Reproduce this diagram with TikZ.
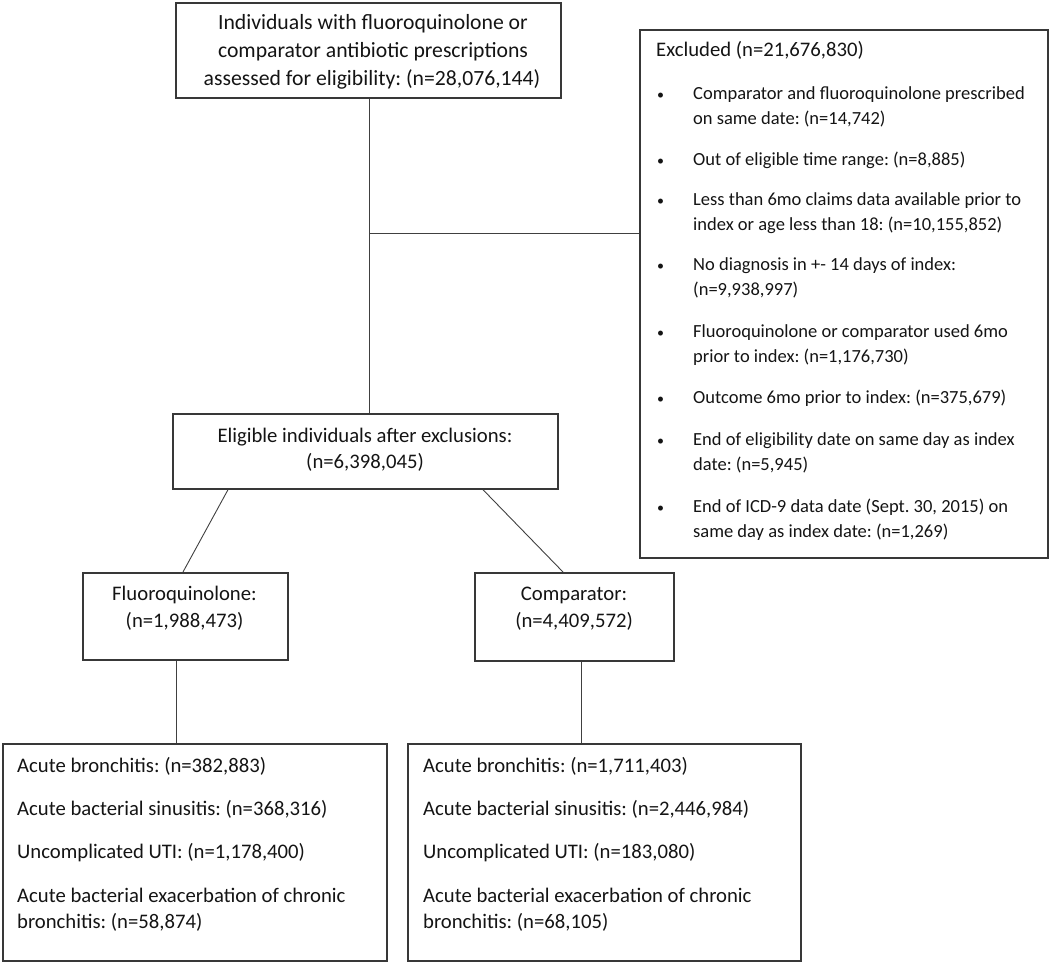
\documentclass[tikz,border=0pt]{standalone}
\usepackage{fontspec}
\setmainfont{Carlito}
\usetikzlibrary{calc}
\frenchspacing
\begin{document}
\begin{tikzpicture}[x=1pt,y=-1pt,
  box/.style={draw=black!78, line width=1.7pt, inner sep=0pt, anchor=north west},
  conn/.style={draw=black!75, line width=0.9pt},
  txt/.style={font=\fontsize{20.7}{25}\selectfont, text=black!92, inner sep=0pt},
  big/.style={font=\fontsize{21.7}{26}\selectfont},
  small/.style={font=\fontsize{18.5}{23}\selectfont},
  tl/.style={txt, anchor=base west},
  tc/.style={txt, anchor=base},
  xl/.style={tl, small},
  bul/.style={font=\fontsize{14}{16}\selectfont, text=black!92, inner sep=0pt, anchor=base west}]
\useasboundingbox (0,0) rectangle (1050,963);
% boxes
\node[box, minimum width=385pt, minimum height=95pt] (top) at (175,2) {};
\node[box, minimum width=408pt, minimum height=528pt] (excl) at (639,29) {};
\node[box, minimum width=385pt, minimum height=75pt] (elig) at (172,413) {};
\node[box, minimum width=205pt, minimum height=87pt] (fq) at (82,572) {};
\node[box, minimum width=199pt, minimum height=88pt] (comp) at (474,572) {};
\node[box, minimum width=384pt, minimum height=217pt] (bl) at (2,743) {};
\node[box, minimum width=393pt, minimum height=217pt] (br) at (407,743) {};
% top text
\node[tc, big] (t1) at (373,30) {Individuals with fluoroquinolone or};
\node[tc, big] (t2) at (373,58) {comparator antibiotic prescriptions};
\node[tc, big] (t3) at (372,86) {assessed for eligibility: (n=28,076,144)};
% eligible text
\node[tc] (g1) at (365,442) {Eligible individuals after exclusions:};
\node[tc] (g2) at (365,468) {(n=6,398,045)};
% fq text
\node[tc] (f1) at (184.5,600) {Fluoroquinolone:};
\node[tc] (f2) at (184.5,627) {(n=1,988,473)};
% comp text
\node[tc] (c1) at (574,600) {Comparator:};
\node[tc] (c2) at (574,627) {(n=4,409,572)};
% excluded
\node[tl] (x0) at (656,57) {Excluded (n=21,676,830)};
\node[bul] (xb1) at (657,100) {•};
\node[xl] (x1a) at (693,100) {Comparator and fluoroquinolone prescribed};
\node[xl] (x1b) at (693,125) {on same date: (n=14,742)};
\node[bul] (xb2) at (657,165) {•};
\node[xl] (x2a) at (693,165) {Out of eligible time range: (n=8,885)};
\node[bul] (xb3) at (657,205) {•};
\node[xl] (x3a) at (693,205) {Less than 6mo claims data available prior to};
\node[xl] (x3b) at (693,230) {index or age less than 18: (n=10,155,852)};
\node[bul] (xb4) at (657,270) {•};
\node[xl] (x4a) at (693,270) {No diagnosis in +- 14 days of index:};
\node[xl] (x4b) at (693,295) {(n=9,938,997)};
\node[bul] (xb5) at (657,337) {•};
\node[xl] (x5a) at (693,337) {Fluoroquinolone or comparator used 6mo};
\node[xl] (x5b) at (693,362) {prior to index: (n=1,176,730)};
\node[bul] (xb6) at (657,403) {•};
\node[xl] (x6a) at (693,403) {Outcome 6mo prior to index: (n=375,679)};
\node[bul] (xb7) at (657,445) {•};
\node[xl] (x7a) at (693,445) {End of eligibility date on same day as index};
\node[xl] (x7b) at (693,470) {date: (n=5,945)};
\node[bul] (xb8) at (657,512) {•};
\node[xl] (x8a) at (693,512) {End of ICD-9 data date (Sept. 30, 2015) on};
\node[xl] (x8b) at (693,537) {same day as index date: (n=1,269)};
% bottom left
\node[tl] (l1) at (17,772) {Acute bronchitis: (n=382,883)};
\node[tl] (l2) at (17,815) {Acute bacterial sinusitis: (n=368,316)};
\node[tl] (l3) at (17,858) {Uncomplicated UTI: (n=1,178,400)};
\node[tl] (l4) at (17,902) {Acute bacterial exacerbation of chronic};
\node[tl] (l5) at (17,928) {bronchitis: (n=58,874)};
% bottom right
\node[tl] (r1) at (423,772) {Acute bronchitis: (n=1,711,403)};
\node[tl] (r2) at (423,815) {Acute bacterial sinusitis: (n=2,446,984)};
\node[tl] (r3) at (423,858) {Uncomplicated UTI: (n=183,080)};
\node[tl] (r4) at (423,902) {Acute bacterial exacerbation of chronic};
\node[tl] (r5) at (423,928) {bronchitis: (n=68,105)};
% connectors
\coordinate (j) at ($(top.south west)+(194,0)$);
\coordinate (jx) at ($(j)+(0,135)$);
\draw[conn] (j) -- (j |- elig.north);
\draw[conn] (jx) -- (jx -| excl.west);
\draw[conn] ($(elig.south west)+(56,0)$) -- ($(fq.north west)+(101,0)$);
\draw[conn] ($(elig.south west)+(311,0)$) -- ($(comp.north west)+(89,0)$);
\draw[conn] ($(fq.south west)+(94,0)$) -- ($(bl.north west)+(174,0)$);
\draw[conn] ($(comp.south west)+(107,0)$) -- ($(br.north west)+(174,0)$);
\end{tikzpicture}
\end{document}
